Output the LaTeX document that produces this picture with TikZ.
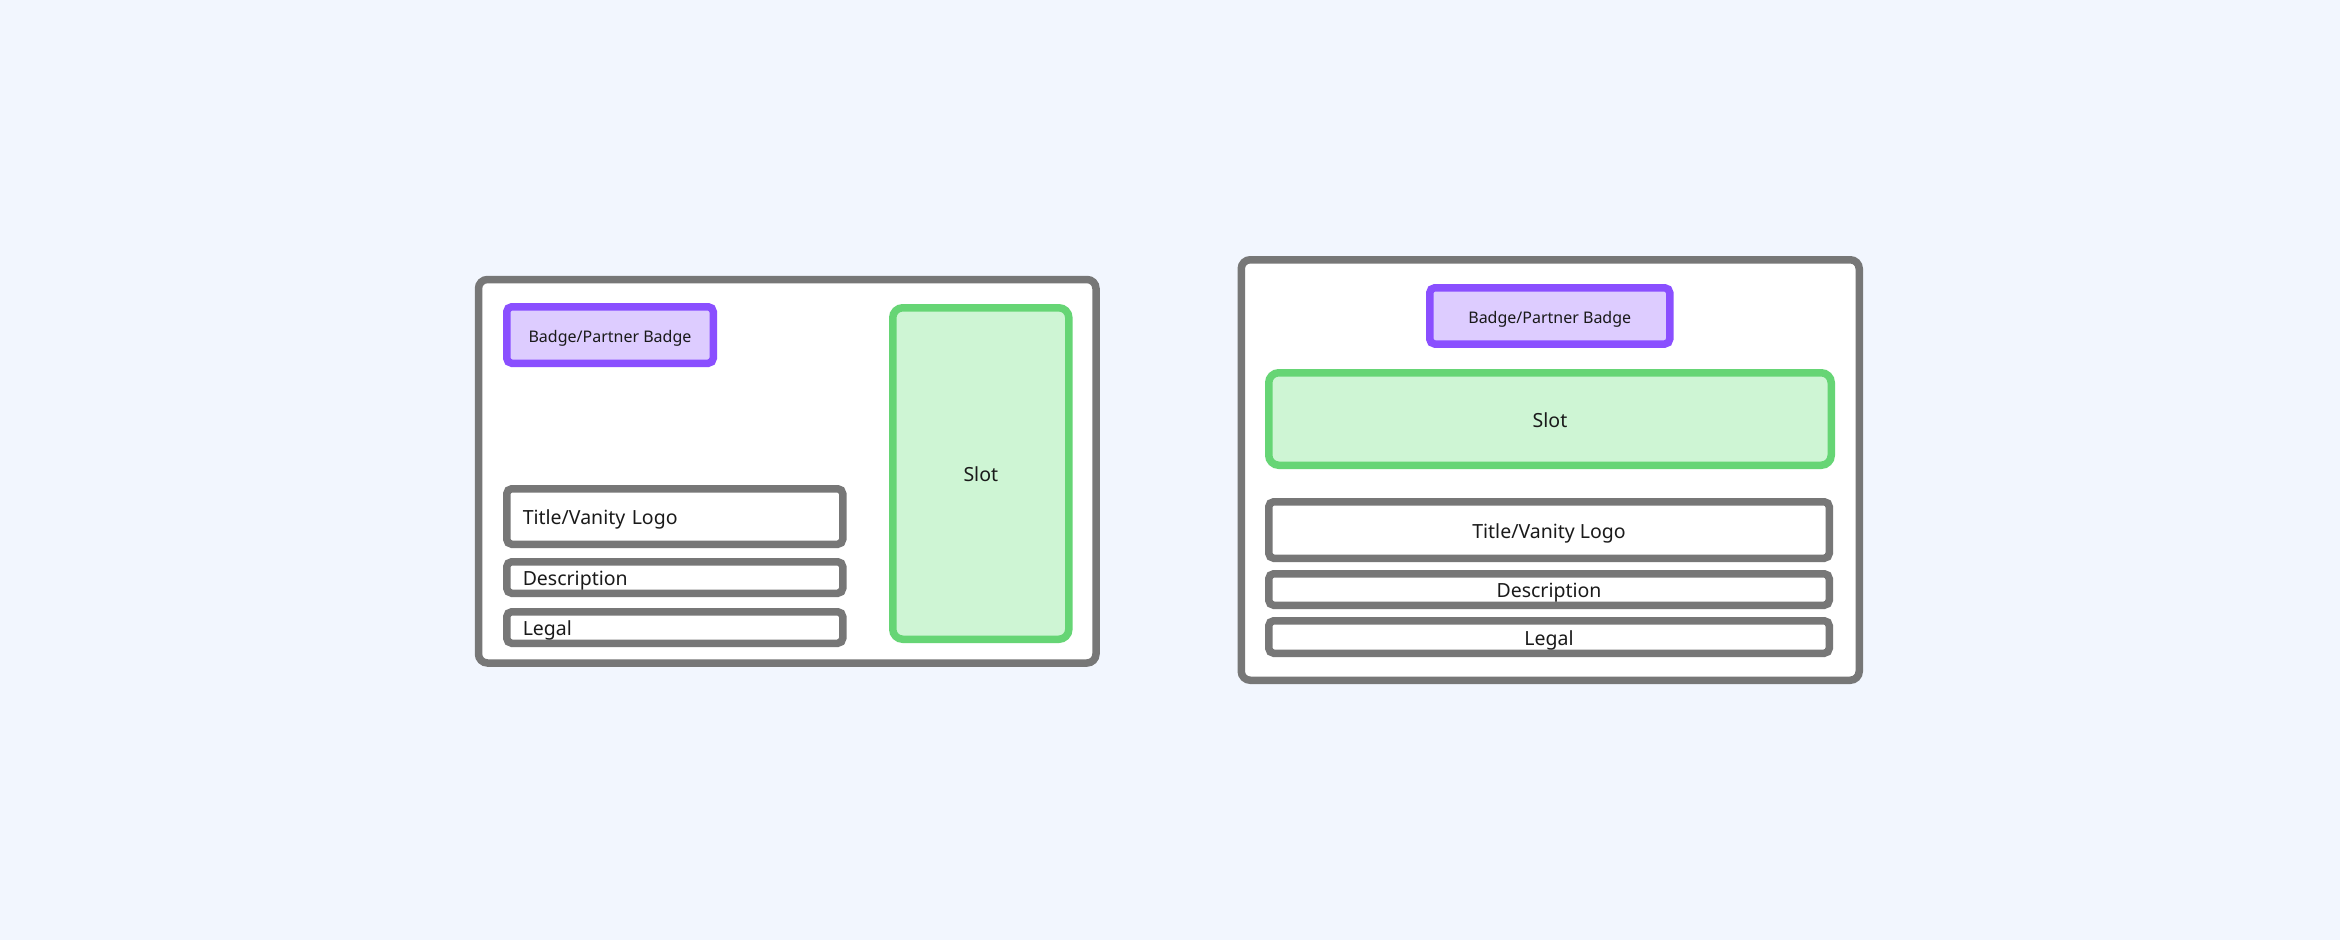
\documentclass[tikz,border=0pt]{standalone}
\usepackage{fontspec}
\setmainfont{Noto Sans}
\definecolor{bgc}{HTML}{F2F6FE}
\definecolor{grayline}{HTML}{777777}
\definecolor{purpleline}{HTML}{8A4FFF}
\definecolor{purplefill}{HTML}{DDCCFF}
\definecolor{greenline}{HTML}{66D575}
\definecolor{greenfill}{HTML}{CEF5D4}
\definecolor{txt}{HTML}{1A1A1A}
\tikzset{
  card/.style={draw=grayline, fill=white, line width=7.5pt, rounded corners=9pt, rectangle, inner sep=0pt},
  badgebox/.style={draw=purpleline, fill=purplefill, line width=7.5pt, rounded corners=5pt, rectangle, inner sep=0pt, text=txt, font=\fontsize{16}{19}\selectfont, text height=14.4pt, text depth=0pt},
  slotbox/.style={draw=greenline, fill=greenfill, line width=7.5pt, rounded corners=10pt, rectangle, inner sep=0pt, text=txt, font=\fontsize{19.5}{23}\selectfont, text height=16.9pt, text depth=0pt},
  fieldbox/.style={draw=grayline, fill=white, line width=7.5pt, rounded corners=5pt, rectangle, inner ysep=0pt, text=txt, font=\fontsize{19.5}{23}\selectfont, text height=16.9pt, text depth=0pt},
  leftfield/.style={fieldbox, inner xsep=16pt, text width=304pt, align=left, minimum width=336pt},
  rightfield/.style={fieldbox, inner xsep=0pt, align=center, minimum width=560.5pt},
}
\begin{document}
\begin{tikzpicture}[x=1pt, y=-1pt]
\useasboundingbox (0,0) rectangle (2340,940);
\fill[bgc] (0,0) rectangle (2340,940);
% left card
\node[card, minimum width=617.5pt, minimum height=383.5pt] (lcard) at (787.25,471.25) {};
\node[badgebox, minimum width=206.5pt, minimum height=56.5pt] (lbadge) at (610,335) {Badge/Partner Badge};
\node[slotbox, minimum width=176.1pt, minimum height=331.5pt] (lslot) at (980.8,473.5) {Slot};
\node[leftfield, minimum height=55.5pt] (ltitle) at (674.75,516.5) {Title/Vanity Logo};
\node[leftfield, minimum height=31.5pt] (ldesc) at (674.75,577.5) {Description};
\node[leftfield, minimum height=31.5pt] (llegal) at (674.75,627.5) {Legal};
% right card
\node[card, minimum width=618pt, minimum height=420.5pt] (rcard) at (1550.25,470) {};
\node[badgebox, minimum width=240pt, minimum height=56.25pt] (rbadge) at (1549.75,315.9) {Badge/Partner Badge};
\node[slotbox, minimum width=562.5pt, minimum height=92.5pt] (rslot) at (1550,419) {Slot};
\node[rightfield, minimum height=56.5pt] (rtitle) at (1549,530) {Title/Vanity Logo};
\node[rightfield, minimum height=31.5pt] (rdesc) at (1549,589.5) {Description};
\node[rightfield, minimum height=32.5pt] (rlegal) at (1549,637) {Legal};
\end{tikzpicture}
\end{document}
